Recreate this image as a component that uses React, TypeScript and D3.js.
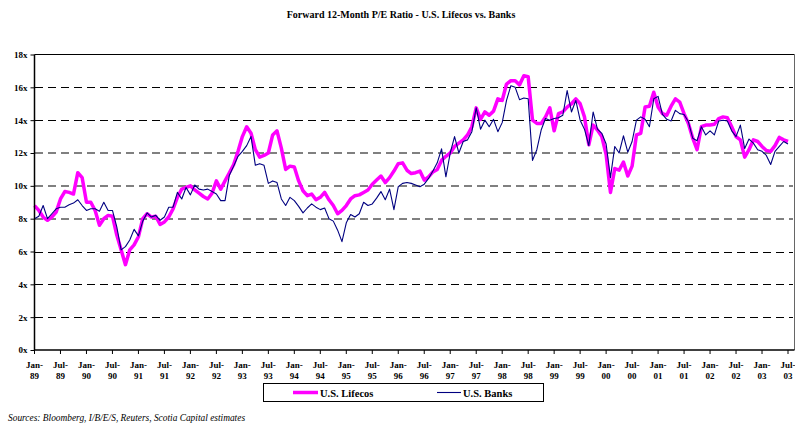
import React, { useEffect, useRef } from "react"
import * as d3 from "d3"

const title = "Forward 12-Month P/E Ratio - U.S. Lifecos vs. Banks"
const source = "Sources: Bloomberg, I/B/E/S, Reuters, Scotia Capital estimates"
const seriesNames = ["U.S. Lifecos", "U.S. Banks"]
const seriesColors = ["#ff00ff", "#000080"]
const yTicks = [0, 2, 4, 6, 8, 10, 12, 14, 16, 18]
const grayGrid = [8, 10, 12]

/** monthly, Jan-89 .. Jul-03 */
const months = d3.timeMonth.range(new Date(1989, 0, 1), new Date(2003, 7, 1))

const lifecos = [
	8.8, 8.5, 8.1, 7.9, 8.1, 8.4, 9.2, 9.65, 9.6, 9.5, 10.8, 10.5, // 89
	9.0, 9.0, 8.5, 7.6, 8.0, 8.2, 8.15, 7.0, 6.1, 5.2, 6.1, 6.4, // 90
	6.9, 8.0, 8.3, 8.1, 8.15, 7.65, 7.8, 8.1, 8.6, 9.3, 9.8, 9.9, // 91
	10.0, 9.75, 9.55, 9.35, 9.2, 9.55, 10.3, 9.8, 10.3, 10.8, 11.3, 12.1, // 92
	13.0, 13.6, 13.2, 12.2, 11.75, 11.85, 12.0, 13.1, 13.35, 12.3, 11.0, 11.2, // 93
	11.15, 10.3, 9.7, 9.4, 9.5, 9.15, 9.3, 9.6, 9.15, 8.8, 8.3, 8.5, // 94
	8.8, 9.2, 9.4, 9.45, 9.6, 9.75, 10.1, 10.35, 10.6, 10.2, 10.5, 10.9, // 95
	11.35, 11.4, 10.95, 10.75, 10.8, 10.9, 10.35, 10.55, 10.85, 11.0, 11.55, 11.8, // 96
	12.0, 12.4, 12.6, 12.8, 13.1, 13.6, 14.75, 14.05, 14.5, 14.3, 14.55, 15.3, // 97
	15.2, 16.2, 16.4, 16.4, 16.15, 16.7, 16.65, 14.0, 13.8, 13.8, 14.2, 14.75, // 98
	13.35, 14.4, 14.5, 14.8, 15.0, 15.3, 15.0, 14.2, 12.5, 13.7, 13.4, 13.0, // 99
	11.9, 9.6, 11.05, 10.95, 11.45, 10.6, 11.2, 13.1, 13.2, 14.8, 14.85, 15.7, // 00
	14.8, 14.4, 14.3, 14.85, 15.3, 15.1, 14.4, 13.8, 12.9, 12.2, 13.6, 13.7, // 01
	13.7, 13.75, 14.1, 14.2, 14.15, 13.6, 13.0, 12.8, 11.75, 12.2, 12.8, 12.7, // 02
	12.4, 12.15, 12.1, 12.45, 12.95, 12.8, 12.7 // 03
]

const banks = [
	8.0, 8.15, 8.8, 8.0, 8.3, 8.6, 8.7, 8.7, 8.85, 8.95, 9.15, 8.8, // 89
	8.5, 8.6, 8.6, 8.45, 9.0, 8.5, 8.5, 7.5, 6.1, 6.3, 6.7, 7.35, // 90
	6.95, 7.85, 8.35, 8.1, 8.2, 7.9, 8.1, 8.7, 8.7, 9.6, 9.2, 9.9, // 91
	9.45, 10.05, 9.8, 9.75, 9.8, 9.65, 9.5, 9.1, 9.1, 10.65, 11.2, 11.8, // 92
	12.1, 12.45, 13.0, 11.25, 11.35, 11.25, 10.15, 10.3, 10.2, 9.2, 8.8, 9.3, // 93
	9.1, 8.75, 8.35, 8.65, 8.9, 8.7, 8.55, 8.65, 8.0, 7.85, 7.3, 6.6, // 94
	7.75, 8.25, 8.1, 8.3, 9.0, 8.8, 8.9, 9.25, 9.65, 9.15, 9.8, 8.55, // 95
	9.95, 10.15, 10.2, 10.15, 10.05, 9.95, 10.1, 10.45, 10.9, 11.4, 12.25, 10.55, // 96
	12.0, 13.0, 12.0, 12.7, 12.8, 13.3, 14.75, 13.45, 14.0, 13.6, 14.05, 13.3, // 97
	13.85, 15.2, 16.1, 16.0, 15.25, 15.35, 15.3, 11.55, 12.2, 13.4, 14.1, 14.0, // 98
	14.1, 14.15, 14.3, 15.8, 14.5, 15.2, 14.0, 13.45, 12.45, 14.5, 13.45, 13.2, // 99
	12.55, 10.5, 12.4, 12.0, 13.05, 12.05, 12.7, 14.0, 14.2, 14.05, 13.6, 15.3, // 00
	15.45, 14.35, 14.05, 13.95, 14.6, 14.4, 14.35, 13.9, 12.9, 12.75, 13.6, 13.1, // 01
	13.35, 13.1, 13.95, 14.0, 13.95, 13.35, 13.0, 13.7, 12.27, 12.85, 12.6, 12.2, // 02
	12.1, 11.85, 11.3, 12.1, 12.4, 12.7, 12.55 // 03
]

export default function App() {
	/** chart dimensions */
	const width = 795
	const height = 424
	const plotLeft = 34.5
	const plotRight = 788
	const frameRight = 794.5
	const plotTop = 54.5
	const plotBottom = 350

	const xScale = d3.scaleLinear().domain([0, months.length - 1]).range([plotLeft, plotRight])
	const yScale = d3.scaleLinear().domain([0, 18]).range([plotBottom, plotTop])

	const linePath = d3.line<number>()
		.x((d, i) => xScale(i))
		.y(d => yScale(d))

	const fontFamily = "'Liberation Serif', 'Times New Roman', serif"
	const tickIdx = months.map((m, i) => i).filter(i => i % 6 === 0)
	const fmtMon = d3.timeFormat("%b-")
	const fmtYr = d3.timeFormat("%y")

	/** y axis through d3 */
	const yAxisRef = useRef<SVGGElement>(null)
	useEffect(() => {
		const g = d3.select(yAxisRef.current)
		g.call(
			d3.axisLeft(yScale)
				.tickValues(yTicks)
				.tickSize(4)
				.tickPadding(3)
				.tickFormat(d => `${d}x`)
		)
		g.select(".domain").remove()
		g.selectAll(".tick line").attr("stroke", "#000").attr("stroke-width", 1)
		g.selectAll(".tick text")
			.attr("font-family", fontFamily)
			.attr("font-weight", "bold")
			.attr("font-size", 9)
			.attr("fill", "#000")
	}, [])

	return (
		<svg width={width} height={height} style={{ position: "absolute", left: 0, top: 0, background: "#fff" }}>
			<text x={401} y={18} textAnchor="middle" fontFamily={fontFamily} fontWeight="bold" fontSize={10}>
				{title}
			</text>

			{/* gridlines */}
			{yTicks.filter(v => v > 0 && v < 18).map(v => {
				const gray = grayGrid.includes(v)
				const y = gray ? Math.round(yScale(v)) : Math.round(yScale(v)) + 0.5
				return (
					<line key={v} x1={plotLeft} x2={frameRight - 2} y1={y} y2={y}
						stroke={gray ? "#808080" : "#000"} strokeWidth={gray ? 2 : 1} strokeDasharray="8,5"
						shapeRendering="crispEdges" />
				)
			})}

			{/* plot frame */}
			<line x1={plotLeft} x2={frameRight} y1={plotTop} y2={plotTop} stroke="#000" strokeWidth={1} />
			<line x1={frameRight} x2={frameRight} y1={plotTop} y2={plotBottom} stroke="#666" strokeWidth={1} />

			{/* series */}
			<path d={linePath(lifecos) || ""} fill="none" stroke={seriesColors[0]} strokeWidth={3.5} strokeLinejoin="round" />
			<path d={linePath(banks) || ""} fill="none" stroke={seriesColors[1]} strokeWidth={1.1} strokeLinejoin="round" />

			{/* axes */}
			<g ref={yAxisRef} transform={`translate(${plotLeft},0)`} />
			<line x1={plotLeft} x2={plotLeft} y1={plotTop} y2={plotBottom} stroke="#000" strokeWidth={1.5} />
			<line x1={plotLeft} x2={frameRight} y1={plotBottom} y2={plotBottom} stroke="#000" strokeWidth={1.5} />
			{tickIdx.map(i => (
				<g key={i} transform={`translate(${xScale(i)},0)`}>
					<line y1={plotBottom} y2={plotBottom + 4} stroke="#000" />
					<text y={368} textAnchor="middle" fontFamily={fontFamily} fontWeight="bold" fontSize={9}>{fmtMon(months[i])}</text>
					<text y={379} textAnchor="middle" fontFamily={fontFamily} fontWeight="bold" fontSize={9}>{fmtYr(months[i])}</text>
				</g>
			))}

			{/* legend */}
			<rect x={263.5} y={383.5} width={280} height={18} fill="#fff" stroke="#000" strokeWidth={1} />
			<line x1={293} x2={318} y1={392.5} y2={392.5} stroke={seriesColors[0]} strokeWidth={3.5} />
			<text x={320} y={396.5} fontFamily={fontFamily} fontWeight="bold" fontSize={10.5}>{seriesNames[0]}</text>
			<line x1={437} x2={461} y1={392.5} y2={392.5} stroke={seriesColors[1]} strokeWidth={1.1} />
			<text x={463} y={396.5} fontFamily={fontFamily} fontWeight="bold" fontSize={10.5}>{seriesNames[1]}</text>

			<text x={8} y={421} fontFamily={fontFamily} fontStyle="italic" fontSize={9.4}>{source}</text>
		</svg>
	)
}
